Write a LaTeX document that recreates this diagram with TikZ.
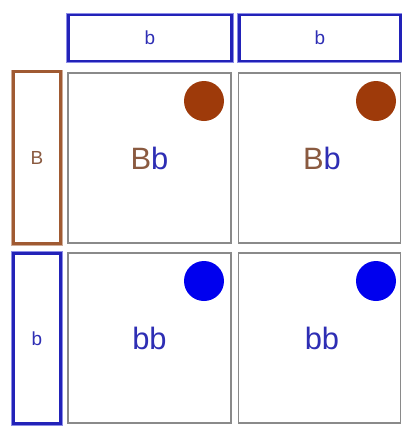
\documentclass[tikz,border=0pt]{standalone}
\usepackage{fontspec}
\setmainfont{Liberation Sans}
\definecolor{hdrblue}{HTML}{2222B8}
\definecolor{haloblue}{HTML}{8C8CE8}
\definecolor{sienna}{HTML}{A05A32}
\definecolor{dotbrown}{HTML}{9E3A0A}
\definecolor{dotblue}{HTML}{0000EE}
\definecolor{txtblue}{HTML}{2E2EB4}
\definecolor{txtbrown}{HTML}{8A5A40}
\definecolor{cellgray}{HTML}{8A8A8A}
\begin{document}
\begin{tikzpicture}[x=1bp,y=-1bp,
  bluebox/.style={draw=hdrblue, line width=2.6bp, preaction={draw=haloblue, line width=4.4bp},
     fill=white, rectangle, inner sep=0pt, text=txtblue, font=\fontsize{19}{19}\selectfont},
  brownbox/.style={draw=sienna, line width=2.6bp, preaction={draw=sienna!50, line width=4bp},
     fill=white, rectangle, inner sep=0pt, text=txtbrown, font=\fontsize{19}{19}\selectfont},
  cell/.style={draw=cellgray, line width=1.4bp, rectangle, inner sep=0pt, fill=white},
  geno/.style={inner sep=0pt, font=\fontsize{31}{31}\selectfont},
  dot/.style={circle, inner sep=0pt, minimum size=40bp}]
\useasboundingbox (0,0) rectangle (402,429);
\fill[white] (0,0) rectangle (402,429);
% header
\node[bluebox, minimum width=163bp, minimum height=46bp] (h1) at (150,38) {b};
\node[bluebox, minimum width=161bp, minimum height=46bp] (h2) at (320,38) {b};
% left
\node[brownbox, minimum width=47bp, minimum height=172bp] (l1) at (37,157.5) {B};
\node[bluebox, minimum width=47bp, minimum height=170bp] (l2) at (37,338.5) {b};
% cells
\node[cell, minimum width=163bp, minimum height=170bp] (c11) at (149.5,158) {};
\node[cell, minimum width=162bp, minimum height=170bp] (c12) at (319.5,158) {};
\node[cell, minimum width=163bp, minimum height=170bp] (c21) at (149.5,338) {};
\node[cell, minimum width=162bp, minimum height=170bp] (c22) at (319.5,338) {};
% dots
\node[dot, fill=dotbrown] (d11) at (204,101) {};
\node[dot, fill=dotbrown] (d12) at (376,101) {};
\node[dot, fill=dotblue] (d21) at (204,281) {};
\node[dot, fill=dotblue] (d22) at (376,281) {};
% genotypes
\node[geno] (g11) at (c11.center) {\textcolor{txtbrown}{B}\textcolor{txtblue}{b}};
\node[geno] (g12) at (322,158) {\textcolor{txtbrown}{B}\textcolor{txtblue}{b}};
\node[geno, text=txtblue] (g21) at (c21.center) {bb};
\node[geno, text=txtblue] (g22) at (322,338) {bb};
\end{tikzpicture}
\end{document}
